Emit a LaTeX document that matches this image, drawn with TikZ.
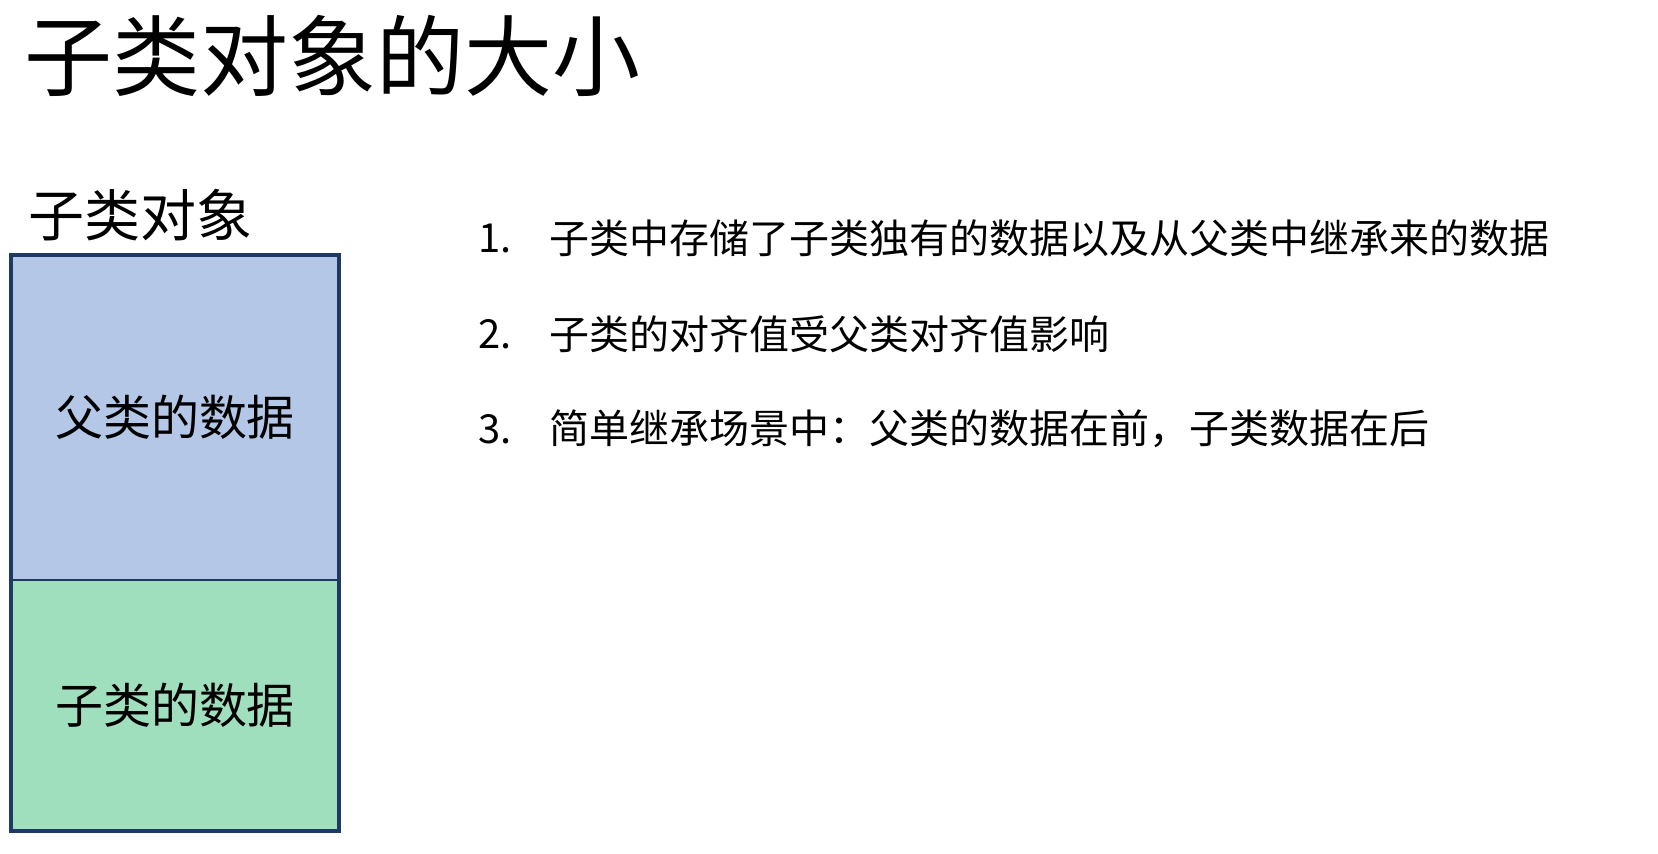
\documentclass[tikz,border=0pt]{standalone}
\usepackage{fontspec}
\setmainfont{Noto Sans CJK SC}
\usetikzlibrary{positioning}

\definecolor{frameblue}{RGB}{31,56,100}
\definecolor{parentfill}{RGB}{180,199,231}
\definecolor{childfill}{RGB}{160,223,190}

\begin{document}
\begin{tikzpicture}[
        x=1pt,y=-1pt
        ,heading/.style={anchor=west,inner sep=0pt,font=\fontsize{88}{100}\selectfont}
        ,caption/.style={anchor=west,inner sep=0pt,font=\fontsize{56}{64}\selectfont}
        ,part/.style={draw=frameblue,line width=1.5pt,minimum width=328,outer sep=0pt,inner sep=0pt,font=\fontsize{48}{56}\selectfont}
        ,itemno/.style={anchor=west,inner sep=0pt,font=\fontsize{40}{46}\selectfont}
        ,itemtext/.style={anchor=west,inner sep=0pt,font=\fontsize{40}{46}\selectfont}
    ]
    \useasboundingbox[fill=white] (0,0) rectangle (1658,854);
    % Заголовок
    \node[heading] (title) at (24,56) {子类对象的大小};
    \node[caption] (objname) at (28,215) {子类对象};
    % Объект
    \node[part,fill=parentfill,minimum height=325,anchor=north west] (parent) at (11,255) {父类的数据};
    \node[part,fill=childfill,minimum height=251,below=0pt of parent] (child) {子类的数据};
    \draw[frameblue,line width=4pt] (parent.north west) rectangle (child.south east);
    % Пункты
    \node[itemno] (no1) at (478,238) {1.};
    \node[itemno] (no2) at (478,334) {2.};
    \node[itemno] (no3) at (478,429) {3.};
    \node[itemtext] (text1) at (549,238) {子类中存储了子类独有的数据以及从父类中继承来的数据};
    \node[itemtext] (text2) at (549,334) {子类的对齐值受父类对齐值影响};
    \node[itemtext] (text3) at (549,429) {简单继承场景中：父类的数据在前，子类数据在后};
\end{tikzpicture}
\end{document}
